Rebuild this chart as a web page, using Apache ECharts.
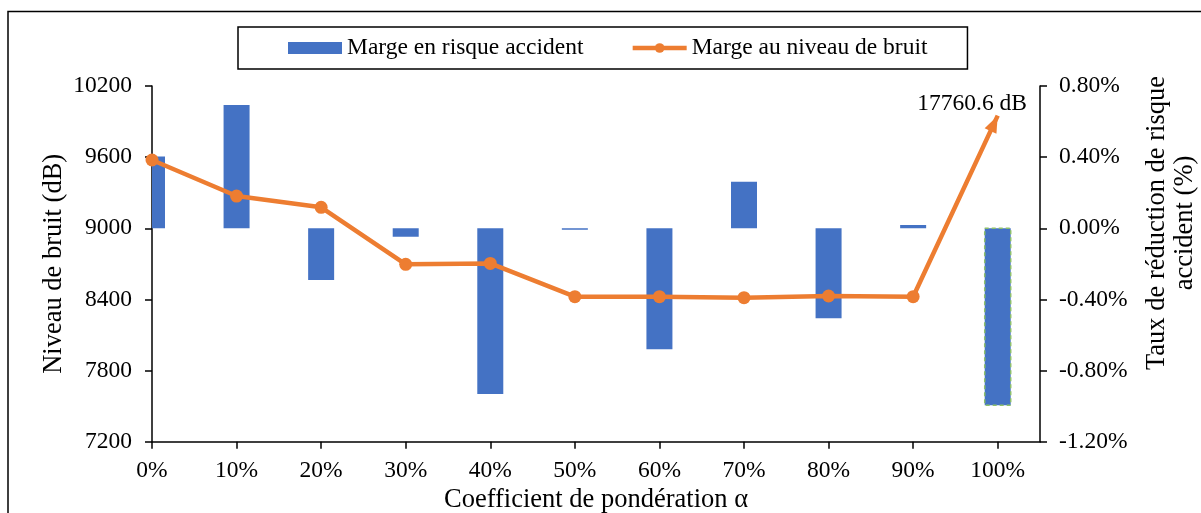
<!DOCTYPE html>
<html><head><meta charset="utf-8">
<script src="https://cdn.jsdelivr.net/npm/echarts@6/dist/echarts.min.js"></script>
<style>html,body{margin:0;padding:0;background:#fff}#c{width:1201px;height:513px}</style>
</head><body><div id="c"></div>
<script>
// ---- data ----
const alphaLevels = [0, 10, 20, 30, 40, 50, 60, 70, 80, 90, 100];           // Coefficient de pondération α (%)
const riskMargin = [0.403, 0.693, -0.291, -0.047, -0.932, -0.008, -0.680, 0.262, -0.506, 0.019, -0.995]; // %
const noiseMargin = [9576, 9272, 9177, 8696, 8704, 8423, 8423, 8415, 8429, 8423, 17760.6];           // dB
const noiseArrowCap = [9950];               // off-scale value is drawn as an arrow reaching this level
const leftAxisRange = [7200, 10200, 600];   // min, max, interval (dB)
const rightAxisRange = [-1.2, 0.8, 0.4];    // min, max, interval (%)
const seriesNames = ['Marge en risque accident', 'Marge au niveau de bruit'];
const axisTitles = ['Coefficient de pondération α', 'Niveau de bruit (dB)', 'Taux de réduction de risque\naccident (%)'];

// ---- chart ----
const FONT = '"Liberation Serif","Times New Roman",Times,serif';
const FS = 23.5;
const TFS = 26.5;
const axisLineStyle = { color: '#000', width: 1.5 };
const BAR_W = 26;

const barData = alphaLevels.map((a, i) => [a, riskMargin[i]]);
const lineData = alphaLevels.map((a, i) => {
  const v = noiseMargin[i];
  if (v > leftAxisRange[1]) {
    return {
      value: [a, noiseArrowCap[0]],
      symbol: 'path://M0,0 L6,16 L-6,16 Z',
      symbolSize: [13, 17],
      symbolRotate: -25,
      symbolOffset: [-3.6, 7.7],
      label: {
        show: true, position: 'inside', offset: [-22, -20],
        formatter: v.toFixed(1) + ' dB',
        color: '#000', fontFamily: FONT, fontSize: FS
      }
    };
  }
  return [a, v];
});

function renderBar(params, api) {
  const x = api.value(0), y = api.value(1);
  const p0 = api.coord([x, 0]);
  const p1 = api.coord([x, y]);
  const top = Math.min(p0[1], p1[1]);
  const h = Math.max(Math.abs(p1[1] - p0[1]), 1);
  const isLast = params.dataIndex === params.dataInsideLength - 1;
  const style = api.style();
  style.fill = '#4472C4';
  if (isLast) {
    style.stroke = '#8DC06A';
    style.lineWidth = 1.5;
    style.lineDash = [4, 3];
  } else {
    style.stroke = null;
  }
  return {
    type: 'rect',
    shape: { x: p0[0] - BAR_W / 2, y: top, width: BAR_W, height: h },
    style: style
  };
}

const chart = echarts.init(document.getElementById('c'), null, { renderer: 'canvas' });
chart.setOption({
  animation: false,
  backgroundColor: '#fff',
  textStyle: { fontFamily: FONT, color: '#000' },
  grid: { left: 152, right: 161, top: 86, height: 355.7, outerBoundsMode: 'none', containLabel: false },
  legend: {
    left: 238, top: 27,
    padding: [9, 40, 9, 50],
    itemGap: 47, itemWidth: 54, itemHeight: 12,
    borderColor: '#000', borderWidth: 1.5,
    lineStyle: { width: 4.5 },
    textStyle: { fontFamily: FONT, fontSize: FS, color: '#000' },
    data: [{ name: seriesNames[0], icon: 'rect' }, { name: seriesNames[1] }]
  },
  xAxis: {
    type: 'value', min: 0, max: 105,
    name: axisTitles[0], nameLocation: 'middle', nameGap: 45, nameMoveOverlap: false,
    nameTextStyle: { fontFamily: FONT, fontSize: TFS, color: '#000' },
    axisLine: { show: true, onZero: false, lineStyle: axisLineStyle },
    axisTick: { show: true, length: 7, lineStyle: axisLineStyle, customValues: alphaLevels },
    axisLabel: { customValues: alphaLevels, formatter: v => v + '%', margin: 17,
                 fontFamily: FONT, fontSize: FS, color: '#000' },
    splitLine: { show: false }
  },
  yAxis: [
    {
      type: 'value', position: 'left',
      min: leftAxisRange[0], max: leftAxisRange[1], interval: leftAxisRange[2],
      name: axisTitles[1], nameLocation: 'middle', nameGap: 84, nameMoveOverlap: false,
      nameTextStyle: { fontFamily: FONT, fontSize: TFS, color: '#000' },
      axisLine: { show: true, onZero: false, lineStyle: axisLineStyle },
      axisTick: { show: true, length: 7, lineStyle: axisLineStyle },
      axisLabel: { margin: 20, formatter: v => String(v), fontFamily: FONT, fontSize: FS, color: '#000' },
      splitLine: { show: false }
    },
    {
      type: 'value', position: 'right',
      min: rightAxisRange[0], max: rightAxisRange[1], interval: rightAxisRange[2],
      axisLine: { show: true, onZero: false, lineStyle: axisLineStyle },
      axisTick: { show: true, length: 7, lineStyle: axisLineStyle },
      axisLabel: { margin: 19, formatter: v => v.toFixed(2) + '%',
                   fontFamily: FONT, fontSize: FS, color: '#000' },
      splitLine: { show: false }
    }
  ],
  graphic: [
    {
      type: 'rect', silent: true, z: 100,
      shape: { x: 8, y: 11.5, width: 1200, height: 510 },
      style: { fill: 'none', stroke: '#000', lineWidth: 1.5 }
    },
    {
      type: 'text', x: 1171, y: 223, rotation: Math.PI / 2,
      style: {
        text: axisTitles[2], fontSize: TFS, fontFamily: FONT,
        fill: '#000', align: 'center', verticalAlign: 'middle',
        textAlign: 'center', textVerticalAlign: 'middle', lineHeight: 28
      }
    }
  ],
  series: [
    {
      name: seriesNames[0], type: 'custom', yAxisIndex: 1,
      clip: true,
      itemStyle: { color: '#4472C4' },
      renderItem: renderBar,
      encode: { x: 0, y: 1 },
      data: barData,
      z: 2
    },
    {
      name: seriesNames[1], type: 'line', yAxisIndex: 0,
      symbol: 'circle', symbolSize: 13,
      lineStyle: { color: '#ED7D31', width: 4.5 },
      itemStyle: { color: '#ED7D31' },
      z: 5,
      data: lineData
    }
  ]
});
</script></body></html>
